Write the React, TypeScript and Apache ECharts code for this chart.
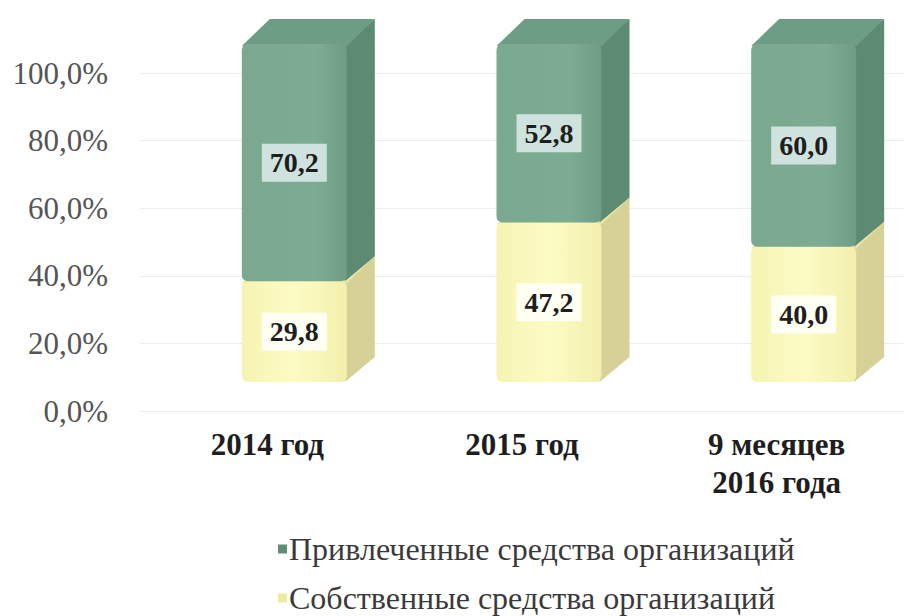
import React, { useEffect, useRef } from 'react';
import * as echarts from 'echarts';

const categories = ['2014 год', '2015 год', '9 месяцев\n2016 года'];
const ownFunds = [29.8, 47.2, 40.0];
const attractedFunds = [70.2, 52.8, 60.0];
const seriesNames = ['Привлеченные средства организаций', 'Собственные средства организаций'];

const FONT = '"Liberation Serif", "Times New Roman", serif';
const W = 105;
const OFF_X = 27;
const OFF_Y = -29;
const DX = 28;
const DY = 25;

const fmt = (v: number) => v.toFixed(1).replace('.', ',');

function makeRender(front: any, side: string, top: string, labelBg: string) {
  return (params: any, api: any) => {
    const cat = api.value(0);
    const start = api.value(1);
    const end = api.value(2);
    const val = api.value(3);
    const p0 = api.coord([cat, start]);
    const p1 = api.coord([cat, end]);
    const x = p0[0] + OFF_X - W / 2;
    const yb = p0[1] + OFF_Y;
    const yt = p1[1] + OFF_Y;
    const h = yb - yt;
    return {
      type: 'group',
      children: [
        {
          type: 'polygon',
          shape: { points: [[x + W - 2, yb], [x + W + DX, yb - DY], [x + W + DX, yt - DY], [x + W - 2, yt]] },
          style: { fill: side },
        },
        {
          type: 'polygon',
          shape: { points: [[x, yt + 2], [x + W, yt + 2], [x + W + DX, yt - DY], [x + DX, yt - DY]] },
          style: { fill: top },
        },
        {
          type: 'rect',
          shape: { x, y: yt, width: W, height: h, r: 6 },
          style: { fill: front },
          textContent: {
            style: {
              text: fmt(val),
              font: `bold 28px ${FONT}`,
              fill: '#1e1e1e',
              backgroundColor: labelBg,
              padding: [5, 8, 5, 8],
            },
          },
          textConfig: { position: 'inside' },
        },
      ],
    };
  };
}

export default function App() {
  const ref = useRef<HTMLDivElement>(null);
  useEffect(() => {
    if (!ref.current) return;
    const chart = echarts.init(ref.current, null, { renderer: 'svg' });
    const ownData = ownFunds.map((v, i) => [i, 0, v, v]);
    const attData = attractedFunds.map((v, i) => [i, ownFunds[i], ownFunds[i] + v, v]);
    const greenFront = new echarts.graphic.LinearGradient(0, 0, 1, 0, [
      { offset: 0, color: '#7aa98f' },
      { offset: 0.7, color: '#7eab93' },
      { offset: 1, color: '#6f9c84' },
    ]);
    const yellowFront = new echarts.graphic.LinearGradient(0, 0, 1, 0, [
      { offset: 0, color: '#f6f4b2' },
      { offset: 0.5, color: '#fcfbc4' },
      { offset: 1, color: '#f3f0ad' },
    ]);
    const legendBase = {
      left: 278,
      padding: 0,
      itemWidth: 9,
      itemHeight: 9,
      icon: 'rect',
      textStyle: { fontFamily: FONT, fontSize: 32, lineHeight: 32, color: '#3a3a3a', padding: [0, 0, 0, -3] },
    };
    chart.setOption({
      animation: false,
      backgroundColor: '#ffffff',
      grid: { left: 140, right: -34, top: 73, bottom: 205 },
      legend: [
        { ...legendBase, top: 533, data: [seriesNames[0]] },
        { ...legendBase, top: 582, data: [seriesNames[1]] },
      ],
      xAxis: {
        type: 'category',
        data: categories,
        axisLine: { show: false },
        axisTick: { show: false },
        axisLabel: {
          margin: 14,
          fontFamily: FONT,
          fontSize: 31,
          fontWeight: 'bold',
          color: '#1e1e1e',
          lineHeight: 38,
          interval: 0,
        },
      },
      yAxis: {
        type: 'value',
        min: 0,
        max: 100,
        interval: 20,
        axisLine: { show: false },
        axisTick: { show: false },
        splitLine: { show: true, lineStyle: { color: '#ececec', width: 1 } },
        axisLabel: {
          margin: 32,
          fontFamily: FONT,
          fontSize: 31,
          color: '#555555',
          formatter: (v: number) => fmt(v) + '%',
        },
      },
      series: [
        {
          name: seriesNames[1],
          type: 'custom',
          itemStyle: { color: '#eeea9e' },
          renderItem: makeRender(yellowFront, '#d6d197', '#e9e5a6', '#fffff4'),
          data: ownData,
          encode: { x: 0, y: [1, 2] },
        },
        {
          name: seriesNames[0],
          type: 'custom',
          itemStyle: { color: '#5f8c76' },
          renderItem: makeRender(greenFront, '#5d8a73', '#6e9d85', '#cfe2dd'),
          data: attData,
          encode: { x: 0, y: [1, 2] },
        },
      ],
    });
    return () => chart.dispose();
  }, []);
  return <div ref={ref} style={{ position: 'fixed', left: 0, top: 0, width: 904, height: 616 }} />;
}
